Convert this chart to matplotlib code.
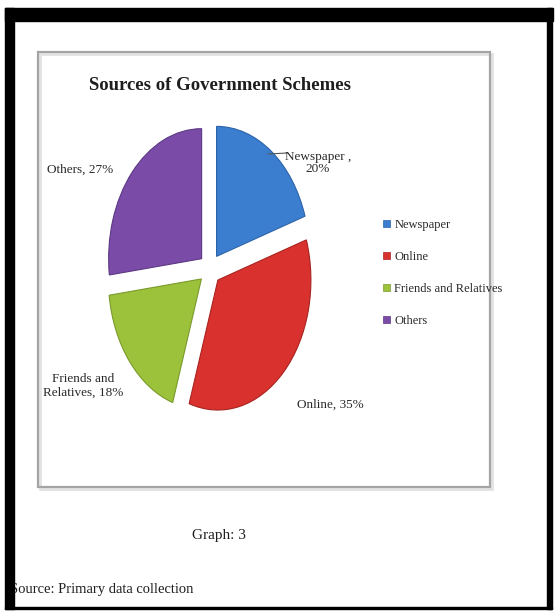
import matplotlib
matplotlib.use('Agg')
import matplotlib.pyplot as plt
from matplotlib.patches import Rectangle, Patch
from matplotlib.lines import Line2D

plt.rcParams['font.family'] = ['Liberation Serif', 'DejaVu Serif']

# data
sources = ['Newspaper', 'Online', 'Friends and Relatives', 'Others']
shares = [20, 35, 18, 27]
colors = ['#3B7ED0', '#D9312E', '#9CC23B', '#7A4CA8']
edge_colors = ['#2C63A8', '#A8231F', '#7A9A2B', '#5C3884']

W, H = 555, 611
fig = plt.figure(figsize=(W / 100, H / 100), dpi=100)
fig.patch.set_facecolor('white')


def fx(px):
    return px / W


def fy(py):
    return 1 - py / H


# black page frame (heavy top/left, thin bottom like the scan)
frame = [(5, 8, 548, 13), (5, 8, 9, 601), (547, 8, 5, 601), (5, 607, 547, 2)]
for x0, y0, w, h in frame:
    fig.add_artist(Rectangle((fx(x0), fy(y0 + h)), w / W, h / H,
                             transform=fig.transFigure, color='black', zorder=5))

# grey chart-area border with a faint shadow
fig.add_artist(Rectangle((fx(40), fy(489)), (490 - 38) / W, (487 - 52) / H,
                         transform=fig.transFigure, fill=False,
                         edgecolor='#e2e2e2', linewidth=2.0, zorder=3))
fig.add_artist(Rectangle((fx(38), fy(487)), (490 - 38) / W, (487 - 52) / H,
                         transform=fig.transFigure, fill=False,
                         edgecolor='#a4a4a4', linewidth=1.6, zorder=4))

fig.text(fx(220), fy(85), 'Sources of Government Schemes', fontsize=13.5,
         fontweight='bold', color='#1e1e1e', ha='center', va='center')

# pie area: unit radius = 93 px wide, 130 px tall (stretched like the scan)
cx, cy, rx, ry = 210, 269, 93, 130
ax = fig.add_axes([fx(cx - 1.5 * rx), fy(cy + 1.3 * ry), 3 * rx / W, 2.6 * ry / H])
wedges, _ = ax.pie(shares, colors=colors, explode=[0.12] * 4, startangle=90,
                   counterclock=False, radius=1.0,
                   wedgeprops=dict(linewidth=0.8))
for w, ec in zip(wedges, edge_colors):
    w.set_edgecolor(ec)
ax.set_aspect('auto')
ax.set_xlim(-1.5, 1.5)
ax.set_ylim(-1.3, 1.3)
ax.axis('off')

# data labels
lab_kw = dict(fontsize=9.5, color='#2a2a2a', ha='center', va='center')
fig.text(fx(318), fy(163), 'Newspaper ,\n20%', linespacing=1.1, **lab_kw)
fig.text(fx(330), fy(405), 'Online, 35%', **lab_kw)
fig.text(fx(83), fy(386), 'Friends and\nRelatives, 18%', linespacing=1.2, **lab_kw)
fig.text(fx(80), fy(170), 'Others, 27%', **lab_kw)
fig.add_artist(Line2D([fx(268), fx(287)], [fy(154), fy(153)],
                      transform=fig.transFigure, color='#555555', linewidth=0.8))

handles = [Patch(facecolor=c, edgecolor=e, linewidth=0.5) for c, e in zip(colors, edge_colors)]
fig.legend(handles, sources, loc='upper left', bbox_to_anchor=(fx(378), fy(214)),
           frameon=False, fontsize=9, handlelength=0.55, handleheight=0.55,
           handletextpad=0.35, labelspacing=1.6, borderaxespad=0,
           labelcolor='#2a2a2a')

fig.text(fx(219), fy(535), 'Graph: 3', fontsize=11, color='#1e1e1e',
         ha='center', va='center')
fig.text(fx(10), fy(590), 'Source: Primary data collection', fontsize=10.5,
         color='#1e1e1e', ha='left', va='center')

fig.savefig('out.png', dpi=100)
